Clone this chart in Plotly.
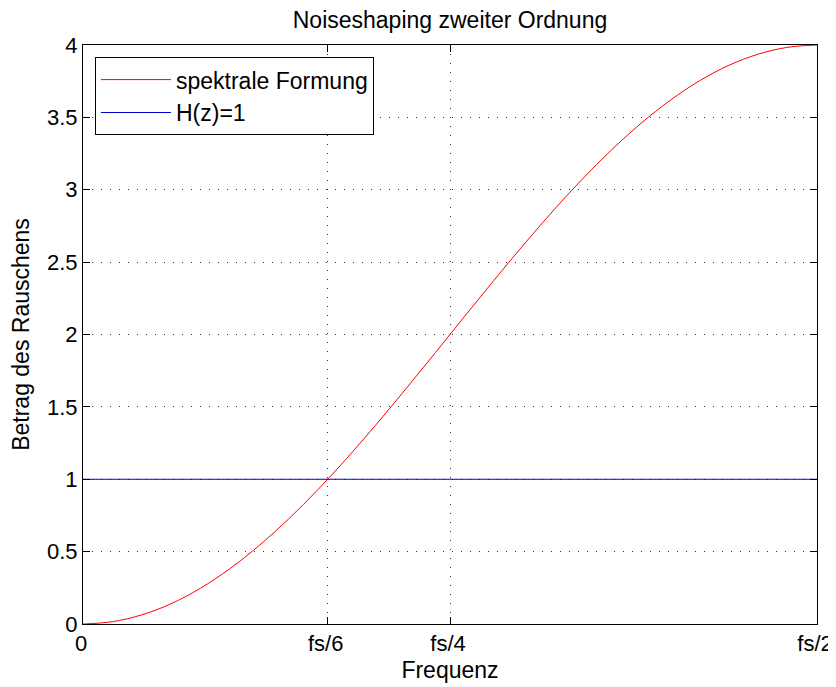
import plotly.graph_objects as go

# Frequency as a fraction of fs (0 .. fs/2)
freq = [0.00, 0.02, 0.04, 0.06, 0.08, 0.10, 0.12, 0.14, 0.16, 0.18, 0.20, 0.22, 0.24,
        0.26, 0.28, 0.30, 0.32, 0.34, 0.36, 0.38, 0.40, 0.42, 0.44, 0.46, 0.48, 0.50]
# Noise magnitude with second-order shaping
shaped = [0.000, 0.016, 0.063, 0.140, 0.247, 0.382, 0.542, 0.725, 0.928, 1.148, 1.382,
          1.625, 1.874, 2.126, 2.375, 2.618, 2.852, 3.072, 3.275, 3.458, 3.618, 3.753,
          3.860, 3.937, 3.984, 4.000]
flat_x = [0.0, 0.5]
flat_y = [1.0, 1.0]

xtick_vals = [0, 1/6, 1/4, 1/2]
xtick_text = ["0", "fs/6", "fs/4", "fs/2"]
ytick_vals = [0, 0.5, 1, 1.5, 2, 2.5, 3, 3.5, 4]
ytick_text = ["0", "0.5", "1", "1.5", "2", "2.5", "3", "3.5", "4"]

FONT = "Liberation Sans, Arial, Helvetica, sans-serif"
FS = 23
TFS = 22
# page body has an 8px default margin; figure sized to fit the 836x687 window
W, H = 828, 679

fig = go.Figure()
fig.add_trace(go.Scatter(x=freq, y=shaped, mode="lines", name="spektrale Formung",
                         line=dict(color="#ff0000", width=1, shape="spline")))
fig.add_trace(go.Scatter(x=flat_x, y=flat_y, mode="lines", name="H(z)=1",
                         line=dict(color="#0000cc", width=1)))

axis_common = dict(showline=True, linecolor="black", linewidth=1, mirror="ticks",
                   ticks="inside", ticklen=7, tickcolor="black", zeroline=False,
                   automargin=False,
                   showgrid=True, gridcolor="#333333", gridwidth=1, griddash="1px,8px",
                   tickfont=dict(family=FONT, size=TFS, color="black"))

fig.update_xaxes(range=[0, 0.5], tickvals=xtick_vals, ticktext=xtick_text,
                 ticklabelshift=-2,
                 title=dict(text="Frequenz", font=dict(family=FONT, size=FS, color="black"), standoff=6),
                 **axis_common)
fig.update_yaxes(range=[0, 4], tickvals=ytick_vals, ticktext=ytick_text,
                 title=dict(text="Betrag des Rauschens", font=dict(family=FONT, size=FS, color="black"), standoff=10),
                 **axis_common)

fig.update_layout(
    width=W, height=H,
    margin=dict(l=75, r=19, t=37, b=63, pad=0, autoexpand=False),
    paper_bgcolor="white", plot_bgcolor="white",
    title=dict(text="Noiseshaping zweiter Ordnung", x=0.5, xref="paper", xanchor="center",
               y=1 - 12/H, yanchor="middle", font=dict(family=FONT, size=FS, color="black")),
    legend=dict(x=0.0163, y=0.979, xanchor="left", yanchor="top", bgcolor="white",
                bordercolor="black", borderwidth=1, itemwidth=70,
                font=dict(family=FONT, size=FS, color="black"),
                tracegroupgap=0),
    showlegend=True,
)

fig.write_html("out.html")
